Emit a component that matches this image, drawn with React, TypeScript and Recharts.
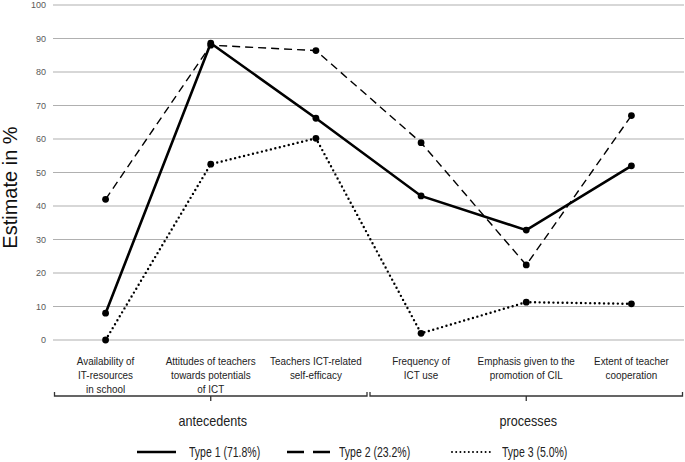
import { LineChart, Line, XAxis, YAxis, CartesianGrid, Legend, Label } from 'recharts';

const categories = [
  'Availability of\nIT-resources\nin school',
  'Attitudes of teachers\ntowards potentials\nof ICT',
  'Teachers ICT-related\nself-efficacy',
  'Frequency of\nICT use',
  'Emphasis given to the\npromotion of CIL',
  'Extent of teacher\ncooperation',
];
const groups = ['antecedents', 'antecedents', 'antecedents', 'processes', 'processes', 'processes'];
const type1 = [8, 88.6, 66.2, 43, 32.8, 52];
const type2 = [42, 88, 86.4, 58.9, 22.4, 67];
const type3 = [0, 52.5, 60.2, 2, 11.3, 10.8];
const seriesNames = ['Type 1 (71.8%)', 'Type 2 (23.2%)', 'Type 3 (5.0%)'];
const yTicks = [0, 10, 20, 30, 40, 50, 60, 70, 80, 90, 100];

const data = categories.map((c, i) => ({
  category: c,
  group: groups[i],
  type1: type1[i],
  type2: type2[i],
  type3: type3[i],
}));

const WIDTH = 685;
const HEIGHT = 462;
const Y_AXIS_W = 53;
const MARGIN = { top: 5, right: 1, left: 0, bottom: 0 };
const BAND = (WIDTH - Y_AXIS_W - MARGIN.left - MARGIN.right) / categories.length;
const FONT = "'Liberation Sans', Arial, sans-serif";

const lineStyles: Record<string, { width: number; dash?: string; cap?: 'round' | 'butt'; legendDash?: string; legendWidth: number }> = {
  type1: { width: 2.6, legendWidth: 2.6 },
  type2: { width: 1.4, dash: '8 5', legendDash: '17 9', legendWidth: 2.6 },
  type3: { width: 2.4, dash: '0 4.6', cap: 'round', legendDash: '0 4.2', legendWidth: 2 },
};

// the source figure uses a condensed face; squeeze Liberation Sans horizontally
function NarrowText({ x, y, sx, size, children }: any) {
  return (
    <g transform={`translate(${x},${y}) scale(${sx},1)`}>
      <text x={0} y={0} textAnchor="middle" fontSize={size} fill="#222" fontFamily={FONT}>
        {children}
      </text>
    </g>
  );
}

function CategoryTick(props: any) {
  const { x, y, payload } = props;
  const i: number = payload.index ?? props.index;
  const lines = String(payload.value).split('\n');
  const g = groups[i];
  const isFirst = i === 0 || groups[i - 1] !== g;
  let bracket = null;
  if (isFirst) {
    let last = i;
    while (last + 1 < groups.length && groups[last + 1] === g) last++;
    const x0 = x - BAND / 2 + 1.5;
    const x1 = x + (last - i) * BAND + BAND / 2 - 1.5;
    const cx = (x0 + x1) / 2;
    const by = y + 56;
    bracket = (
      <g>
        <path
          d={`M${x0},${by - 4} L${x0},${by} L${x1},${by} L${x1},${by - 4} M${cx},${by} L${cx},${by + 5}`}
          stroke="#333"
          strokeWidth={1.3}
          fill="none"
        />
        <NarrowText x={cx + 2} y={y + 86} sx={0.87} size={14.5}>
          {g}
        </NarrowText>
      </g>
    );
  }
  return (
    <g>
      <NarrowText x={x} y={y + 25} sx={0.86} size={11.5}>
        {lines.map((l, k) => (
          <tspan key={k} x={0} dy={k === 0 ? 0 : 13.8}>
            {l}
          </tspan>
        ))}
      </NarrowText>
      {bracket}
    </g>
  );
}

function YTitle(props: any) {
  const vb = props.viewBox || { x: 0, y: 0, height: 0 };
  const cy = vb.y + vb.height / 2 + 15;
  return (
    <text
      x={17}
      y={cy}
      transform={`rotate(-90, 17, ${cy})`}
      textAnchor="middle"
      fontSize={20}
      fill="#111"
      fontFamily={FONT}
    >
      Estimate in %
    </text>
  );
}

const legendItemWidths = [150, 163, 140];

function LegendContent(props: any) {
  const payload: any[] = props.payload || [];
  return (
    <div
      style={{
        display: 'flex',
        boxSizing: 'border-box',
        paddingLeft: 137,
        paddingTop: 4,
        height: 24,
        alignItems: 'center',
        fontFamily: FONT,
      }}
    >
      {payload.map((entry, i) => {
        const st = lineStyles[entry.dataKey as string];
        return (
          <div key={i} style={{ width: legendItemWidths[i], display: 'flex', alignItems: 'center' }}>
            <svg width={44} height={10} style={{ marginRight: 8 }}>
              <line
                x1={st.cap === 'round' ? 2 : 0}
                y1={5}
                x2={st.dash ? 43 : 39}
                y2={5}
                stroke="#000"
                strokeWidth={st.legendWidth}
                strokeDasharray={st.legendDash}
                strokeLinecap={st.cap || 'butt'}
              />
            </svg>
            <span
              style={{
                display: 'inline-block',
                fontSize: 14,
                color: '#222',
                whiteSpace: 'nowrap',
                transform: 'scaleX(0.75)',
                transformOrigin: 'left center',
              }}
            >
              {entry.value}
            </span>
          </div>
        );
      })}
    </div>
  );
}

export default function App() {
  return (
    <div style={{ position: 'absolute', left: 0, top: 0, width: WIDTH, height: HEIGHT, background: '#fff' }}>
      <LineChart width={WIDTH} height={HEIGHT} data={data} margin={MARGIN}>
        <CartesianGrid vertical={false} stroke="#b0b0b0" strokeWidth={1.2} />
        <XAxis
          dataKey="category"
          axisLine={false}
          tickLine={false}
          tickSize={0}
          tickMargin={0}
          height={98}
          interval={0}
          padding={{ left: BAND / 2, right: BAND / 2 }}
          tick={<CategoryTick />}
        />
        <YAxis
          domain={[0, 100]}
          ticks={yTicks}
          width={Y_AXIS_W}
          axisLine={false}
          tickLine={false}
          tickSize={0}
          tickMargin={7}
          tick={{ fontSize: 9, fill: '#595959', fontFamily: FONT }}
        >
          <Label content={<YTitle />} />
        </YAxis>
        <Legend verticalAlign="bottom" content={<LegendContent />} />
        {(['type1', 'type2', 'type3'] as const).map((key, i) => {
          const st = lineStyles[key];
          return (
            <Line
              key={key}
              dataKey={key}
              name={seriesNames[i]}
              type="linear"
              stroke="#000"
              strokeWidth={st.width}
              strokeDasharray={st.dash}
              strokeLinecap={st.cap || 'butt'}
              dot={{ r: 3.4, fill: '#000', stroke: 'none', strokeDasharray: '' }}
              activeDot={false}
              isAnimationActive={false}
            />
          );
        })}
      </LineChart>
    </div>
  );
}
